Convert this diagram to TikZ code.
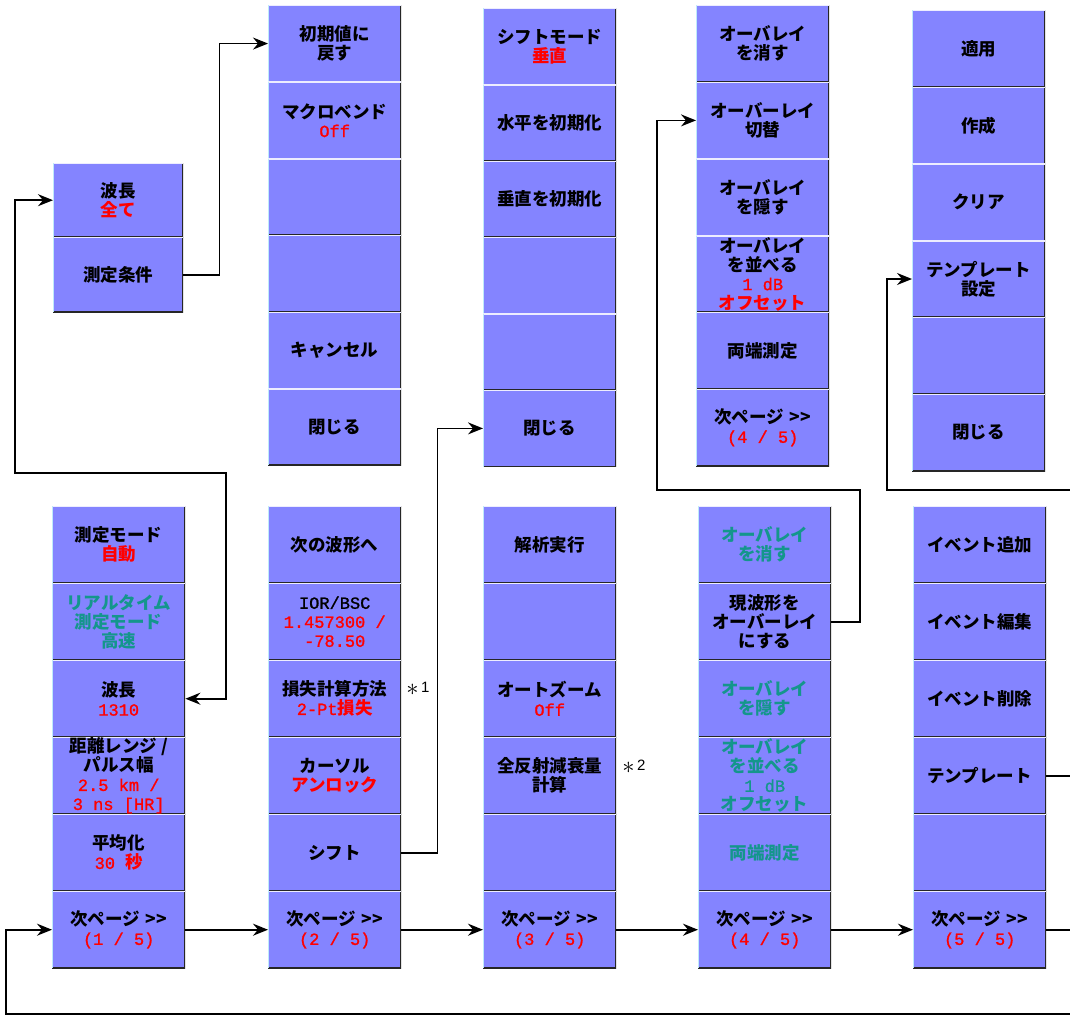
\documentclass[tikz,border=0pt]{standalone}
\usepackage{fontspec}
\setmainfont{Noto Sans CJK JP}
\newfontfamily\monof{Liberation Mono}[FakeBold=1.2]
\setsansfont{Liberation Sans}
\usetikzlibrary{arrows.meta}
\definecolor{btnfill}{RGB}{132,132,255}
\definecolor{vred}{RGB}{255,0,0}
\definecolor{vteal}{RGB}{20,150,140}
\newcommand\mfont{\monof\mdseries\fontsize{17}{19}\selectfont}
\newcommand\rj[1]{\textcolor{vred}{#1}}
\newcommand\rmo[1]{\textcolor{vred}{\mfont #1}}
\newcommand\tj[1]{\textcolor{vteal}{#1}}
\newcommand\nextp{次ページ\hspace{6pt}>{}>}
\newcommand\btn[5]{\node[btnbox, minimum height=#4pt] (#1) at (#2,#3) {#5};}
\begin{document}
\begin{tikzpicture}[x=1pt,y=-1pt,
  btnbox/.style={rectangle, anchor=north west, minimum width=133pt, inner sep=0pt,
    fill=btnfill, align=center, font=\fontsize{17.5}{19}\selectfont\bfseries,
    path picture={
      \draw[line width=2pt,black!85] (path picture bounding box.north east) -- (path picture bounding box.south east) -- (path picture bounding box.south west);
      \draw[line width=2pt,white!85!btnfill] (path picture bounding box.north west) -- (path picture bounding box.north east);
      \draw[line width=1.5pt,cyan!25] (path picture bounding box.north west) -- (path picture bounding box.south west);
    }},
  conn/.style={line width=1.7pt, black},
  tip/.style={-{Stealth[length=15pt,width=12pt,inset=5pt]}},
  bothtips/.style={{Stealth[length=15pt,width=12pt,inset=5pt]}-{Stealth[length=15pt,width=12pt,inset=5pt]}},
  note/.style={font=\fontsize{15}{15}\selectfont\sffamily}
]
\fill[white] (0,0) rectangle (1070,1017);
\useasboundingbox (0,0) rectangle (1070,1017);

% small menu
\node[btnbox, minimum width=130pt, minimum height=74pt] (s1) at (53,163) {波長\\\rj{全て}};
\node[btnbox, minimum width=130pt, minimum height=75pt] (s2) at (53,237) {測定条件};

% column 2 top
\btn{ta1}{268}{5}{76.7}{初期値に\\戻す}
\btn{ta2}{268}{81.7}{76.7}{マクロベンド\\\rmo{Off}}
\btn{ta3}{268}{158.4}{76.7}{}
\btn{ta4}{268}{235.1}{76.7}{}
\btn{ta5}{268}{311.8}{76.7}{キャンセル}
\btn{ta6}{268}{388.5}{76.7}{閉じる}

% column 3 top
\btn{tb1}{483}{8}{76.4}{シフトモード\\\rj{垂直}}
\btn{tb2}{483}{84.4}{76.4}{水平を初期化}
\btn{tb3}{483}{160.8}{76.4}{垂直を初期化}
\btn{tb4}{483}{237.2}{76.4}{}
\btn{tb5}{483}{313.6}{76.4}{}
\btn{tb6}{483}{390}{76.4}{閉じる}

% column 4 top
\btn{tc1}{696}{5}{76.8}{オーバレイ\\を消す}
\btn{tc2}{696}{81.8}{76.8}{オーバーレイ\\切替}
\btn{tc3}{696}{158.6}{76.8}{オーバレイ\\を隠す}
\btn{tc4}{696}{235.4}{76.8}{オーバレイ\\を並べる\\\rmo{1 dB}\\\rj{オフセット}}
\btn{tc5}{696}{312.2}{76.8}{両端測定}
\btn{tc6}{696}{389}{76.8}{\nextp\\\rmo{(4 / 5)}}

% column 5 top
\btn{td1}{912}{10}{76.8}{適用}
\btn{td2}{912}{86.8}{76.8}{作成}
\btn{td3}{912}{163.6}{76.8}{クリア}
\btn{td4}{912}{240.4}{76.8}{テンプレート\\設定}
\btn{td5}{912}{317.2}{76.8}{}
\btn{td6}{912}{394}{76.8}{閉じる}

% column 1 bottom
\btn{ba1}{52}{506}{77}{測定モード\\\rj{自動}}
\btn{ba2}{52}{583}{77}{\tj{リアルタイム}\\\tj{測定モード}\\\tj{高速}}
\btn{ba3}{52}{660}{77}{波長\\\rmo{1310}}
\btn{ba4}{52}{737}{77}{距離レンジ /\\パルス幅\\\rmo{2.5 km /}\\\rmo{3 ns [HR]}}
\btn{ba5}{52}{814}{77}{平均化\\\textcolor{vred}{{\mfont 30 }秒}}
\btn{ba6}{52}{891}{77}{\nextp\\\rmo{(1 / 5)}}

% column 2 bottom
\btn{bb1}{268}{506}{77}{次の波形へ}
\btn{bb2}{268}{583}{77}{{\mfont IOR/BSC}\\\rmo{1.457300 /}\\\rmo{-78.50}}
\btn{bb3}{268}{660}{77}{損失計算方法\\\textcolor{vred}{{\mfont 2-Pt}損失}}
\btn{bb4}{268}{737}{77}{カーソル\\\rj{アンロック}}
\btn{bb5}{268}{814}{77}{シフト}
\btn{bb6}{268}{891}{77}{\nextp\\\rmo{(2 / 5)}}

% column 3 bottom
\btn{bc1}{483}{506}{77}{解析実行}
\btn{bc2}{483}{583}{77}{}
\btn{bc3}{483}{660}{77}{オートズーム\\\rmo{Off}}
\btn{bc4}{483}{737}{77}{全反射減衰量\\計算}
\btn{bc5}{483}{814}{77}{}
\btn{bc6}{483}{891}{77}{\nextp\\\rmo{(3 / 5)}}

% column 4 bottom
\btn{bd1}{698}{506}{77}{\tj{オーバレイ}\\\tj{を消す}}
\btn{bd2}{698}{583}{77}{現波形を\\オーバーレイ\\にする}
\btn{bd3}{698}{660}{77}{\tj{オーバレイ}\\\tj{を隠す}}
\btn{bd4}{698}{737}{77}{\tj{オーバレイ}\\\tj{を並べる}\\\textcolor{vteal}{\mfont 1 dB}\\\tj{オフセット}}
\btn{bd5}{698}{814}{77}{\tj{両端測定}}
\btn{bd6}{698}{891}{77}{\nextp\\\rmo{(4 / 5)}}

% column 5 bottom
\btn{be1}{913}{506}{77}{イベント追加}
\btn{be2}{913}{583}{77}{イベント編集}
\btn{be3}{913}{660}{77}{イベント削除}
\btn{be4}{913}{737}{77}{テンプレート}
\btn{be5}{913}{814}{77}{}
\btn{be6}{913}{891}{77}{\nextp\\\rmo{(5 / 5)}}

% notes
\node[note] (n1) at (418,689) {\raisebox{-3pt}{\scalebox{1.7}{$\ast$}}\,1};
\node[note] (n2) at (634,767) {\raisebox{-3pt}{\scalebox{1.7}{$\ast$}}\,2};

% connectors
\draw[conn,tip] (s2.east) -- ++(36,0) |- (ta1.west);
\coordinate (k1) at (15,473);
\coordinate (k2) at (226,473);
\draw[conn,bothtips] (s1.west) -| (k1) -- (k2) |- (ba3.east);
\draw[conn,tip] (bb5.east) -- ++(36,0) |- (tb6.west);
\coordinate (k3) at (860,490);
\coordinate (k4) at (657,490);
\draw[conn,tip] (bd2.east) -| (k3) -- (k4) |- (tc2.west);
\coordinate (k5) at (1070,775);
\draw[conn] (be4.east) -- (be4.east -| k5);
\coordinate (k6) at (1070,490);
\coordinate (k7) at (887,490);
\draw[conn,tip] (k6) -- (k7) |- (td4.west);
\draw[conn,tip] (ba6.east) -- (bb6.west);
\draw[conn,tip] (bb6.east) -- (bc6.west);
\draw[conn,tip] (bc6.east) -- (bd6.west);
\draw[conn,tip] (bd6.east) -- (be6.west);
\coordinate (k8) at (1070,929);
\draw[conn] (be6.east) -- (be6.east -| k8);
\coordinate (k9) at (1070,1014);
\coordinate (k10) at (6,1014);
\draw[conn,tip] (k9) -- (k10) |- (ba6.west);
\end{tikzpicture}
\end{document}
